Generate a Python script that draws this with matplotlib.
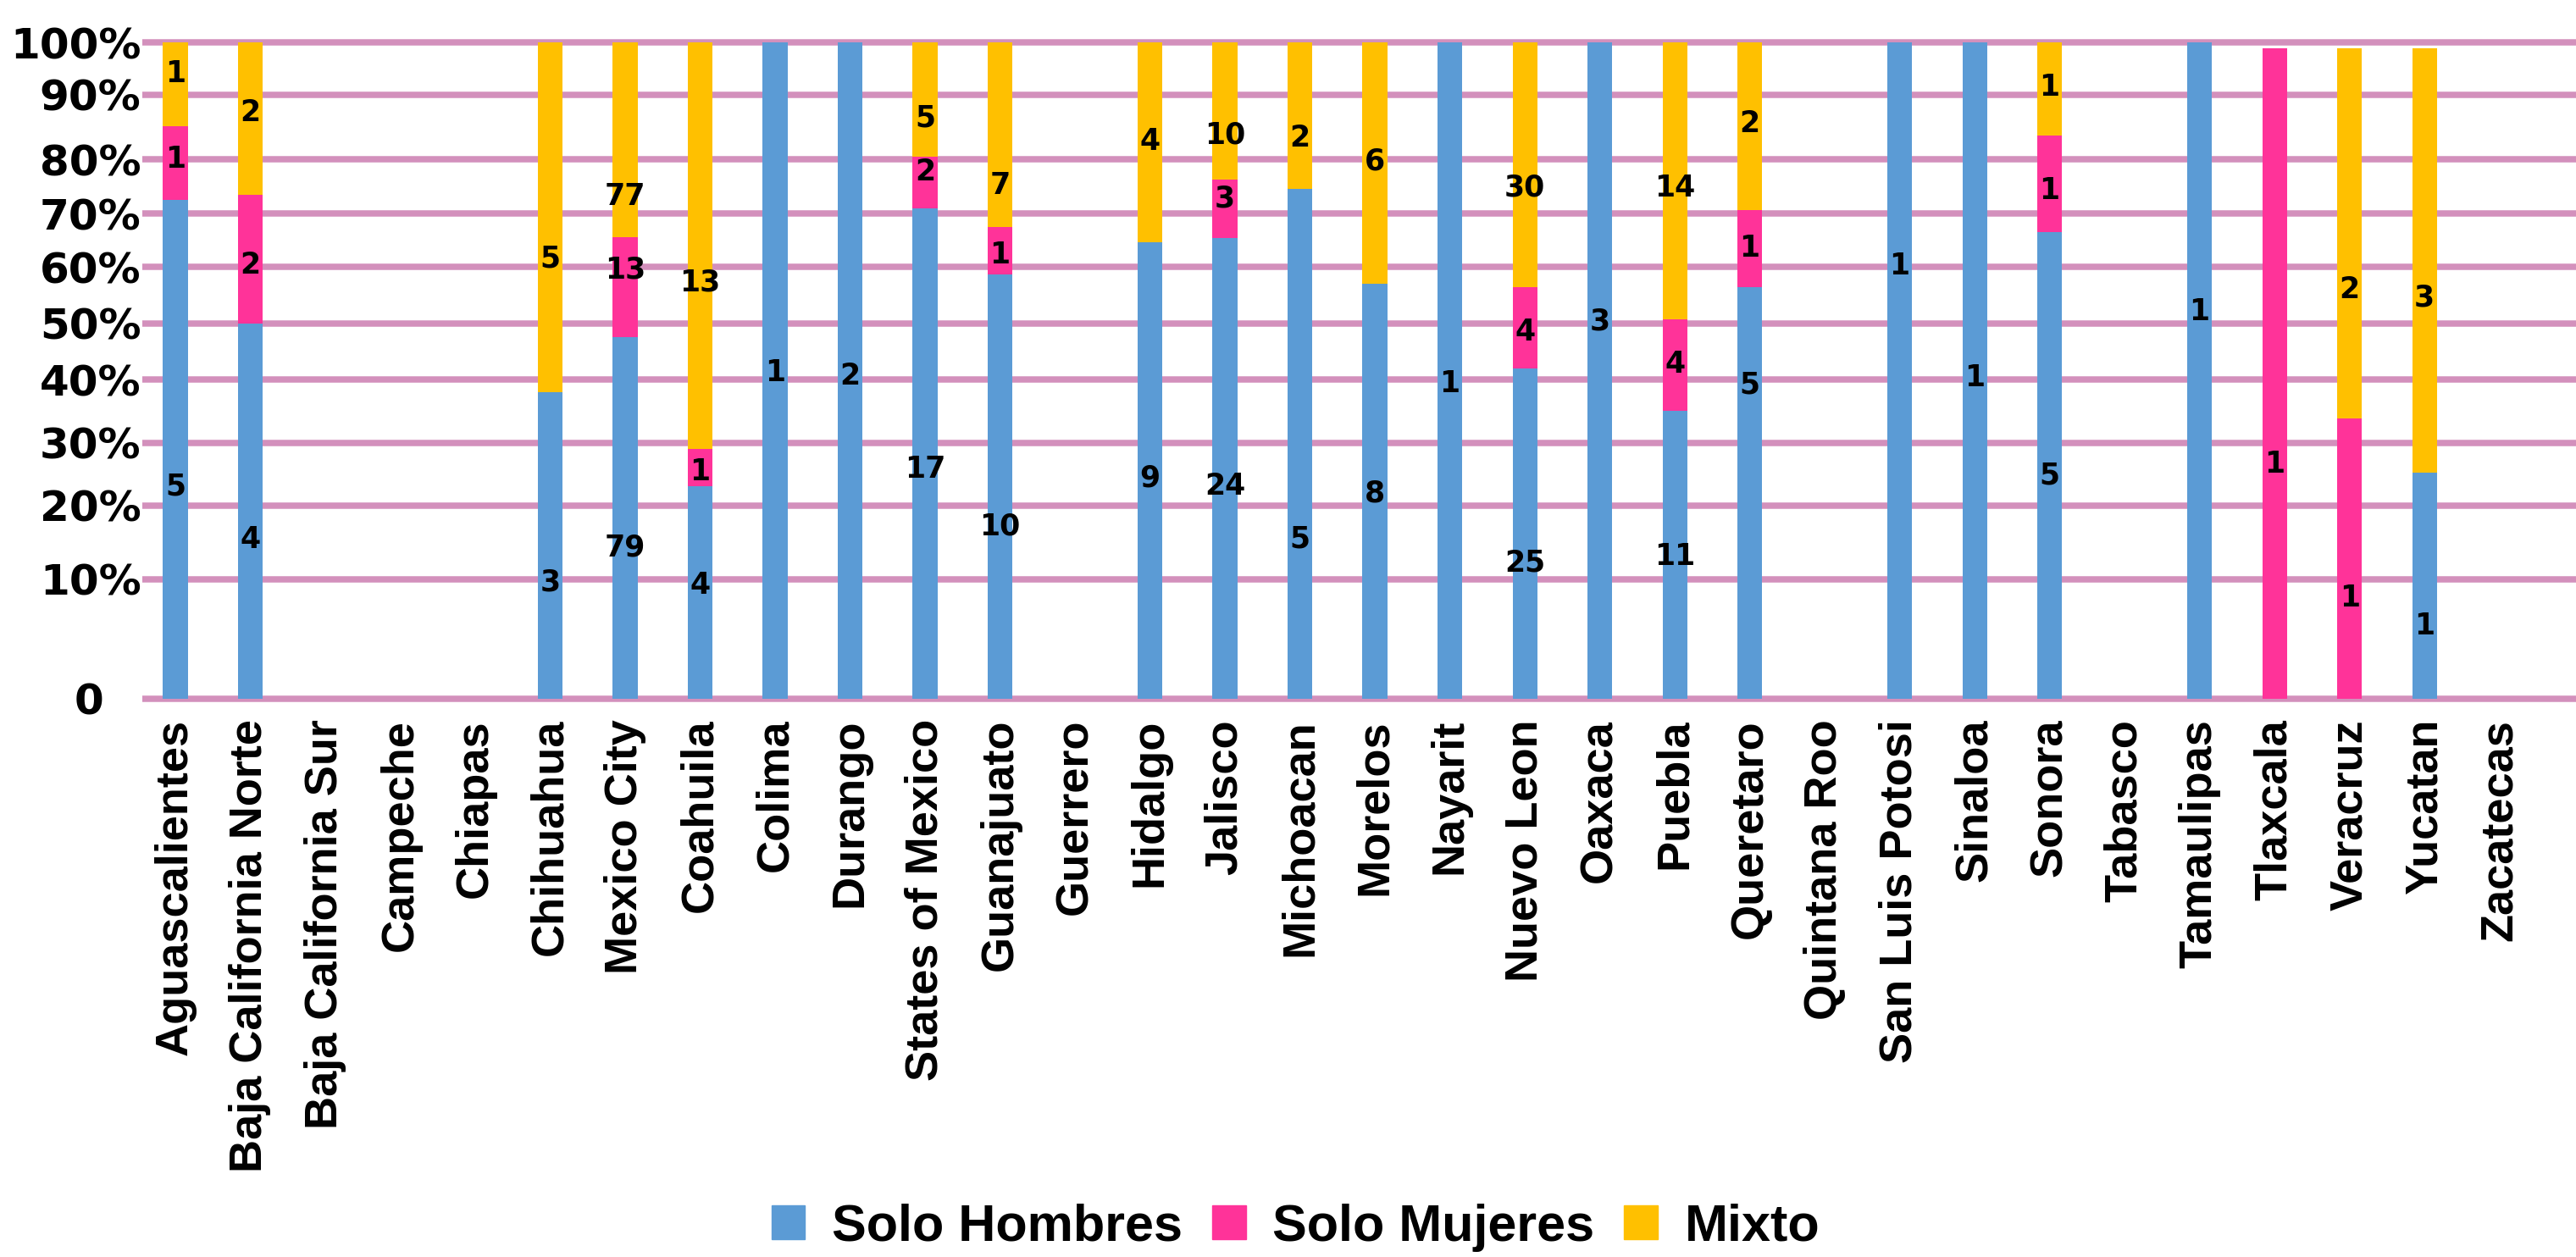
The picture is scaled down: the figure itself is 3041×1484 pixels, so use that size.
import numpy as np
import matplotlib
matplotlib.use("Agg")
import matplotlib.pyplot as plt
from matplotlib.patches import Patch
from matplotlib.transforms import ScaledTranslation

# -----------------------------
# Data
# -----------------------------
states = [
    "Aguascalientes", "Baja California Norte", "Baja California Sur", "Campeche",
    "Chiapas", "Chihuahua", "Mexico City", "Coahuila", "Colima", "Durango",
    "States of Mexico", "Guanajuato", "Guerrero", "Hidalgo", "Jalisco",
    "Michoacan", "Morelos", "Nayarit", "Nuevo Leon", "Oaxaca", "Puebla",
    "Queretaro", "Quintana Roo", "San Luis Potosi", "Sinaloa", "Sonora",
    "Tabasco", "Tamaulipas", "Tlaxcala", "Veracruz", "Yucatan", "Zacatecas",
]

# segment heights in percent, as drawn
hombres_pct = [72.5, 50, 0, 0, 0, 38, 47.5, 23, 100, 100, 71, 58.7, 0, 64.7, 65.4,
               74.5, 57, 100, 42, 100, 35, 56.5, 0, 100, 100, 66.6, 0, 100, 0, 0, 25.2, 0]
mujeres_pct = [12.6, 23.5, 0, 0, 0, 0, 18.1, 6, 0, 0, 9.4, 8.8, 0, 0, 10.9,
               0, 0, 0, 14.5, 0, 15.7, 14.1, 0, 0, 0, 17.1, 0, 0, 99, 33.9, 0, 0]
mixto_pct = [14.9, 26.5, 0, 0, 0, 62, 34.4, 71, 0, 0, 19.6, 32.5, 0, 35.3, 23.7,
             25.5, 43, 0, 43.5, 0, 49.3, 29.4, 0, 0, 0, 16.3, 0, 0, 0, 65.1, 73.8, 0]

# counts shown as data labels
hombres_n = [5, 4, None, None, None, 3, 79, 4, 1, 2, 17, 10, None, 9, 24,
             5, 8, 1, 25, 3, 11, 5, None, 1, 1, 5, None, 1, None, None, 1, None]
mujeres_n = [1, 2, None, None, None, None, 13, 1, None, None, 2, 1, None, None, 3,
             None, None, None, 4, None, 4, 1, None, None, None, 1, None, None, 1, 1, None, None]
mixto_n = [1, 2, None, None, None, 5, 77, 13, None, None, 5, 7, None, 4, 10,
           2, 6, None, 30, None, 14, 2, None, None, None, 1, None, None, None, 2, 3, None]

# where each count label sits (percent units)
hombres_lab_y = [23, 15.4, 0, 0, 0, 9.7, 14.3, 9.5, 41.2, 40.6, 25.7, 17.2, 0, 24.4, 23,
                 15.4, 21.9, 39.3, 12.2, 50.3, 13, 39.2, 0, 60.2, 40.4, 24.8, 0, 52, 0, 0, 6.1, 0]
mujeres_lab_y = [80, 60.4, 0, 0, 0, 0, 59.5, 25.3, 0, 0, 77.7, 62.3, 0, 0, 72.8,
                 0, 0, 0, 48.5, 0, 42.8, 63.6, 0, 0, 0, 74.2, 0, 0, 26.6, 8.4, 0, 0]
mixto_lab_y = [94, 87.2, 0, 0, 0, 61.6, 73.1, 57.3, 0, 0, 86.3, 75.1, 0, 82.8, 83.7,
               83.3, 79.6, 0, 74.7, 0, 74.7, 85.5, 0, 0, 0, 91.4, 0, 0, 0, 56.0, 54.6, 0]

series = ["Solo Hombres", "Solo Mujeres", "Mixto"]
colors = ["#5B9BD5", "#FF3399", "#FFC000"]
grid_color = "#D390BC"

# the y axis of the original is not linear: gridline heights (px above the 0 line)
tick_pct = [-10, 0, 10, 20, 30, 40, 50, 60, 70, 80, 90, 100, 110]
tick_px = [-100, 0, 141.5, 228.3, 302.5, 376.8, 443.4, 509.6, 573, 637, 713.3, 774.6, 874.6]


def fwd(v):
    return np.interp(v, tick_pct, tick_px)


def inv(v):
    return np.interp(v, tick_px, tick_pct)


# -----------------------------
# Figure
# -----------------------------
W, H = 3041, 1484
fig = plt.figure(figsize=(W / 100, H / 100), dpi=100)
ax = fig.add_axes([168 / W, 649 / H, 1 - 168 / W, 794.6 / H])
ax.set_yscale("function", functions=(fwd, inv))

x = np.arange(len(states))
bw = 0.33
hom = np.array(hombres_pct)
muj = np.array(mujeres_pct)
mix = np.array(mixto_pct)

ax.bar(x, hom, bw, color=colors[0], zorder=3)
ax.bar(x, muj, bw, bottom=hom, color=colors[1], zorder=3)
ax.bar(x, mix, bw, bottom=hom + muj, color=colors[2], zorder=3)

lab_font = dict(fontsize=25, fontweight="bold", family="DejaVu Sans",
                ha="center", va="center", zorder=5)
for counts, ys in [(hombres_n, hombres_lab_y), (mujeres_n, mujeres_lab_y), (mixto_n, mixto_lab_y)]:
    for i, (n, yv) in enumerate(zip(counts, ys)):
        if n is not None:
            ax.text(i, yv, str(n), **lab_font)

ax.set_xlim(-0.44, 32.02)
ax.set_ylim(-1, 101)

yt = list(range(0, 101, 10))
ax.set_yticks(yt)
ax.set_yticklabels(["0"] + [f"{v}%" for v in yt[1:]],
                   fontsize=36, fontweight="bold", family="DejaVu Sans")
ax.yaxis.grid(True, color=grid_color, linewidth=5.4)
ax.set_axisbelow(True)
ax.tick_params(axis="y", length=0, pad=1)
# the "0" label sits further left in the original
lbl0 = ax.get_yticklabels()[0]
lbl0.set_transform(lbl0.get_transform() + ScaledTranslation(-0.44, 0, fig.dpi_scale_trans))

ax.set_xticks(x)
ax.set_xticklabels(states, rotation=90, fontsize=39, fontweight="bold",
                   family="Liberation Sans")
ax.tick_params(axis="x", length=0, pad=10)

for sp in ax.spines.values():
    sp.set_visible(False)

handles = [Patch(color=c, label=s) for c, s in zip(colors, series)]
fig.legend(handles=handles, loc="upper center", bbox_to_anchor=(0.503, 94 / H),
           ncol=3, frameon=False, borderpad=0, handlelength=0.65, handleheight=0.65,
           handletextpad=0.52, columnspacing=0.57,
           prop=dict(family="Liberation Sans", weight="bold", size=44))

fig.savefig("out.png", dpi=100)
